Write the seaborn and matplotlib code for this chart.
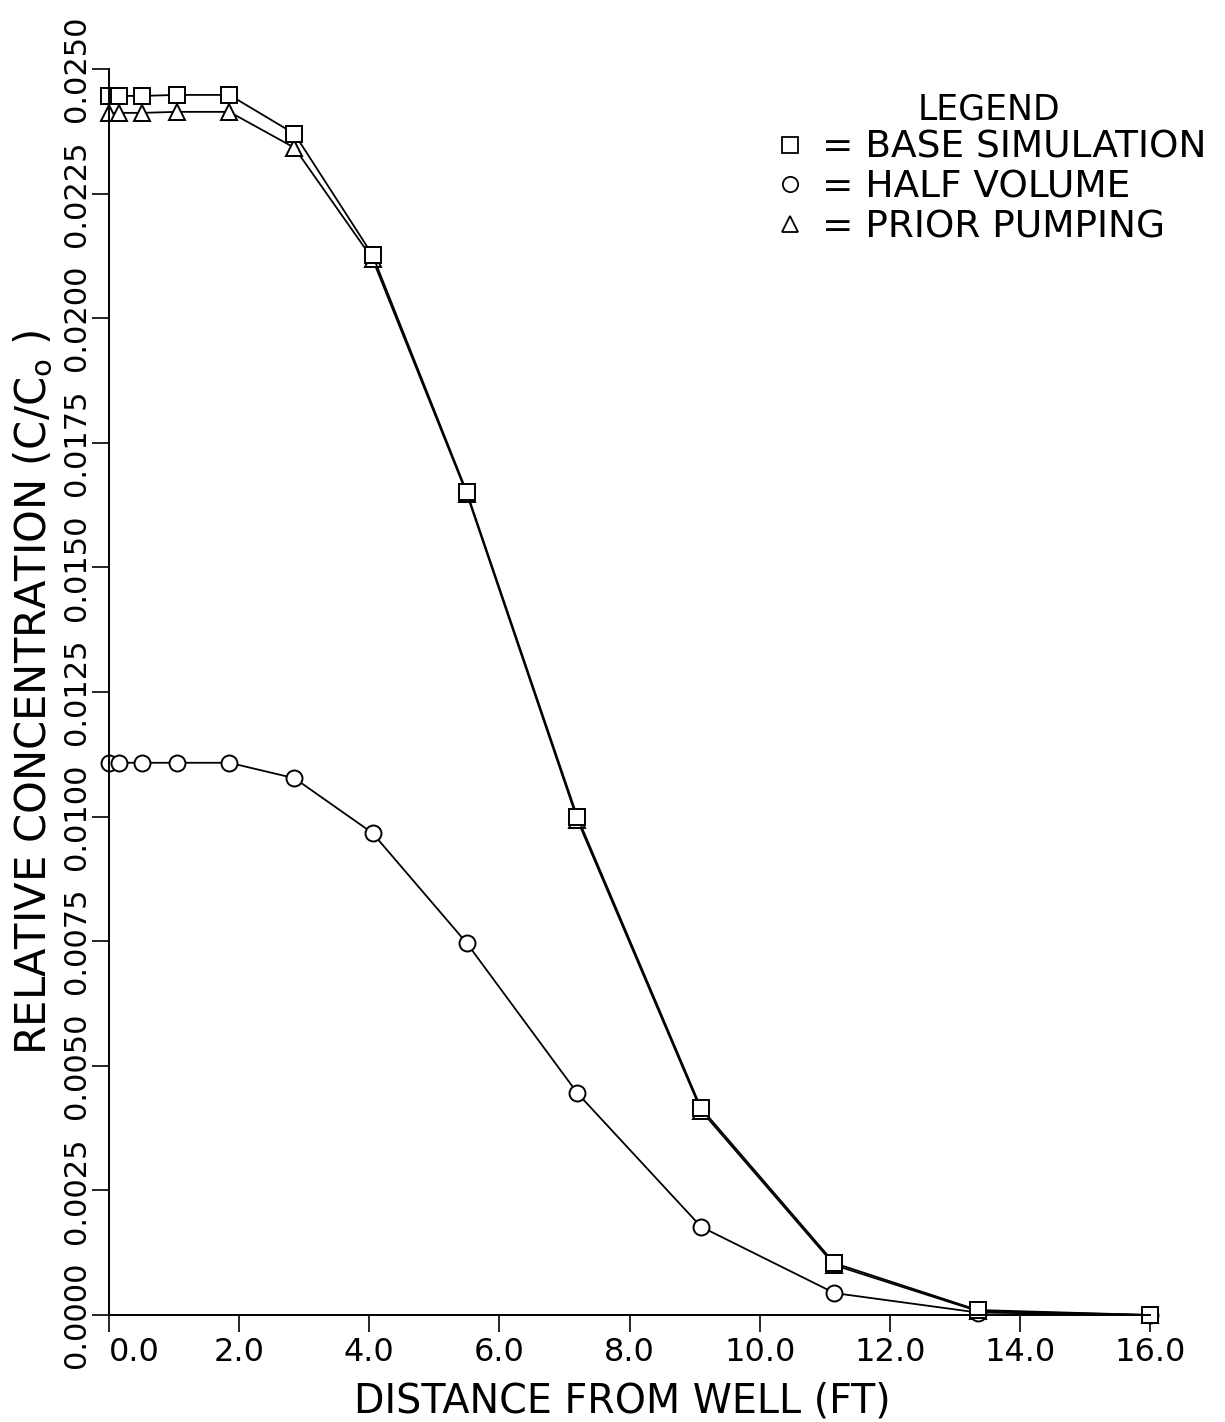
import numpy as np
import pandas as pd
import matplotlib
matplotlib.use("Agg")
import matplotlib.pyplot as plt
from matplotlib.lines import Line2D
import seaborn as sns

# ---- data ----
distance_ft = [0.0, 0.15, 0.5, 1.05, 1.85, 2.85, 4.05, 5.5, 7.2, 9.1, 11.15, 13.35, 16.0]
base_simulation = [0.02446, 0.02446, 0.02446, 0.02448, 0.02448, 0.02370, 0.02127,
                   0.01651, 0.00999, 0.00415, 0.00104, 0.00010, 0.0]
half_volume = [0.01108, 0.01108, 0.01108, 0.01108, 0.01108, 0.01077, 0.00967,
               0.00746, 0.00445, 0.00177, 0.00044, 0.00005, 0.0]
prior_pumping = [0.02412, 0.02412, 0.02412, 0.02414, 0.02414, 0.02342, 0.02119,
                 0.01647, 0.00993, 0.00410, 0.00100, 0.00008, 0.0]
series_names = ["PRIOR PUMPING", "HALF VOLUME", "BASE SIMULATION"]
series_markers = {"BASE SIMULATION": "s", "HALF VOLUME": "o", "PRIOR PUMPING": "^"}
legend_order = ["BASE SIMULATION", "HALF VOLUME", "PRIOR PUMPING"]
x_ticks = [0, 2, 4, 6, 8, 10, 12, 14, 16]
y_ticks = [0.0, 0.0025, 0.005, 0.0075, 0.01, 0.0125, 0.015, 0.0175, 0.02, 0.0225, 0.025]

df = pd.concat([
    pd.DataFrame({"x": distance_ft, "y": prior_pumping, "series": "PRIOR PUMPING"}),
    pd.DataFrame({"x": distance_ft, "y": half_volume, "series": "HALF VOLUME"}),
    pd.DataFrame({"x": distance_ft, "y": base_simulation, "series": "BASE SIMULATION"}),
], ignore_index=True)

sns.set_style("ticks")
plt.rcParams["font.family"] = ["DejaVu Sans"]
plt.rcParams.update({"text.color": "black", "axes.labelcolor": "black",
                     "xtick.color": "black", "ytick.color": "black",
                     "axes.edgecolor": "black"})

fig = plt.figure(figsize=(12.25, 14.22), dpi=100)
ax = fig.add_axes([109 / 1225, 107 / 1422, 1041 / 1225, 1246 / 1422])

sns.lineplot(data=df, x="x", y="y", style="series", style_order=series_names,
             markers=series_markers, dashes=False, color="black", sort=False,
             estimator=None, linewidth=1.3, markersize=11.5,
             markerfacecolor="white", markeredgecolor="black",
             markeredgewidth=1.4, legend=False, ax=ax)
for ln in ax.lines:
    ln.set_markerfacecolor("white")
    ln.set_markeredgecolor("black")
    ln.set_color("black")
    ln.set_clip_on(False)

ax.set_xlim(0, 16)
ax.set_ylim(0, 0.025)
ax.set_xticks(x_ticks)
ax.set_xticklabels([f"{v:.1f}" for v in x_ticks])
ax.set_yticks(y_ticks)
ax.set_yticklabels([f"{v:.4f}" for v in y_ticks])
sns.despine(ax=ax)
for s in ("left", "bottom"):
    ax.spines[s].set_linewidth(1.4)
    ax.spines[s].set_color("black")
ax.tick_params(axis="both", direction="out", length=12, width=1.2, color="black")
ax.tick_params(axis="x", labelsize=23, pad=4, labelcolor="black")
ax.tick_params(axis="y", labelsize=22, pad=1, labelrotation=90, labelcolor="black")
for lab in ax.get_yticklabels():
    lab.set_va("center")
ax.get_xticklabels()[0].set_ha("left")

ax.set_xlabel("DISTANCE FROM WELL (FT)", fontsize=28.5, color="black")
ax.set_ylabel("RELATIVE CONCENTRATION (C/C$_\\mathregular{o}$ )", fontsize=30, color="black")
ax.xaxis.set_label_coords(0.493, -0.053)
ax.yaxis.set_label_coords(-0.052, 0.5)

handles = [Line2D([], [], marker=series_markers[n], linestyle="none", markersize=11,
                  markerfacecolor="white", markeredgecolor="black", markeredgewidth=1.3)
           for n in legend_order]
leg = fig.legend(handles, ["= " + n for n in legend_order], title="LEGEND",
                 loc="upper left", bbox_to_anchor=(771 / 1225, 1 - 92 / 1422),
                 frameon=False, fontsize=27, title_fontsize=25, handlelength=1.0,
                 handletextpad=0.35, labelspacing=0.1, borderpad=0, borderaxespad=0,
                 labelcolor="black")
leg.get_title().set_color("black")

fig.savefig("out.png", dpi=100, facecolor="white")
